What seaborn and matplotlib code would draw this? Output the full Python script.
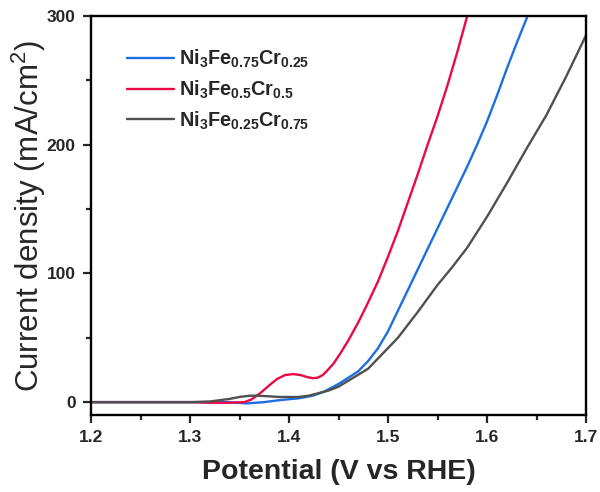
import numpy as np
import pandas as pd
import matplotlib
matplotlib.use("Agg")
import matplotlib.pyplot as plt
import seaborn as sns
from matplotlib.ticker import MultipleLocator

# LSV polarisation curves (potential in V vs RHE, current density in mA/cm^2)
v_fe075 = [1.20, 1.34, 1.357, 1.375, 1.39, 1.41, 1.424, 1.435, 1.445, 1.452,
           1.46, 1.47, 1.48, 1.49, 1.50, 1.51, 1.52, 1.53, 1.54, 1.55, 1.56,
           1.57, 1.58, 1.59, 1.60, 1.61, 1.62, 1.63, 1.641]
j_fe075 = [0, 0, -1, 0, 1.5, 3, 5, 8, 12, 15,
           19, 24, 32, 42, 55, 71, 87, 103, 119, 135, 151,
           167, 183, 200, 218, 238, 259, 279, 300]

v_fe05 = [1.20, 1.30, 1.32, 1.34, 1.355, 1.362, 1.371, 1.38, 1.388, 1.396,
          1.404, 1.412, 1.418, 1.424, 1.429, 1.434, 1.438, 1.445, 1.452,
          1.46, 1.47, 1.479, 1.49, 1.50, 1.51, 1.52, 1.53, 1.54, 1.55, 1.56,
          1.57, 1.58]
j_fe05 = [0, 0, -0.5, -0.5, 0, 2, 7, 13, 18, 21,
          21.8, 21, 19.5, 18.6, 19, 21, 24, 30, 38,
          48, 62, 76, 94, 113, 133, 155, 177, 200, 222, 246,
          272, 300]

v_fe025 = [1.20, 1.30, 1.32, 1.34, 1.35, 1.36, 1.368, 1.38, 1.39, 1.41, 1.42,
           1.43, 1.44, 1.45, 1.465, 1.48, 1.495, 1.51, 1.53, 1.55, 1.565,
           1.58, 1.60, 1.62, 1.64, 1.66, 1.68, 1.70]
j_fe025 = [0, 0, 0.5, 2.5, 4, 5, 5, 4.5, 4, 4, 5,
           7, 9, 12, 19, 26, 38, 50, 70, 91, 105,
           120, 144, 170, 197, 223, 253, 285]

labels = [r"Ni$_\mathbf{3}$Fe$_\mathbf{0.75}$Cr$_\mathbf{0.25}$",
          r"Ni$_\mathbf{3}$Fe$_\mathbf{0.5}$Cr$_\mathbf{0.5}$",
          r"Ni$_\mathbf{3}$Fe$_\mathbf{0.25}$Cr$_\mathbf{0.75}$"]
colors = ["#1c6fe3", "#ea0a45", "#505050"]

x_ticks = [1.2, 1.3, 1.4, 1.5, 1.6, 1.7]
y_ticks = [0, 100, 200, 300]

sns.set_theme(style="ticks")
plt.rcParams["font.family"] = ["Liberation Sans", "DejaVu Sans"]
plt.rcParams["mathtext.fontset"] = "custom"
plt.rcParams["mathtext.rm"] = "Liberation Sans"
plt.rcParams["mathtext.bf"] = "Liberation Sans:bold"

fig = plt.figure(figsize=(6.0, 4.92), dpi=100)
ax = fig.add_axes([91 / 600, 1 - 415 / 492, 495 / 600, 399 / 492])

series = [(v_fe075, j_fe075), (v_fe05, j_fe05), (v_fe025, j_fe025)]
for (v, j), lab, col in zip(series, labels, colors):
    df = pd.DataFrame({"V": v, "J": j})
    sns.lineplot(data=df, x="V", y="J", ax=ax, color=col, lw=1.7,
                 label=lab, sort=False, estimator=None)

ax.set_xlim(1.2, 1.7)
ax.set_ylim(-10, 300)
ax.set_xticks(x_ticks)
ax.set_yticks(y_ticks)
ax.xaxis.set_minor_locator(MultipleLocator(0.05))
ax.yaxis.set_minor_locator(MultipleLocator(50))
ax.tick_params(which="major", direction="out", length=6, width=1.6,
               labelsize=12.5, pad=5)
ax.tick_params(which="minor", direction="out", length=3.5, width=1.6)
for lbl in ax.get_xticklabels() + ax.get_yticklabels():
    lbl.set_fontweight("bold")
for sp in ax.spines.values():
    sp.set_linewidth(1.7)
    sp.set_color("black")

ax.set_xlabel("Potential (V vs RHE)", fontsize=20.5, fontweight="bold",
              labelpad=10)
ax.set_ylabel(r"Current density (mA/cm$^2$)", fontsize=22.5,
              fontweight="normal")
ax.yaxis.set_label_coords(-0.087, 0.5)

leg = ax.legend(loc="upper left", bbox_to_anchor=(0.073, 0.92),
                frameon=False, fontsize=14.3, handlelength=2.35,
                handletextpad=0.28, labelspacing=0.42, borderaxespad=0,
                borderpad=0)
for t in leg.get_texts():
    t.set_fontweight("bold")

fig.savefig("out.png", dpi=100)
